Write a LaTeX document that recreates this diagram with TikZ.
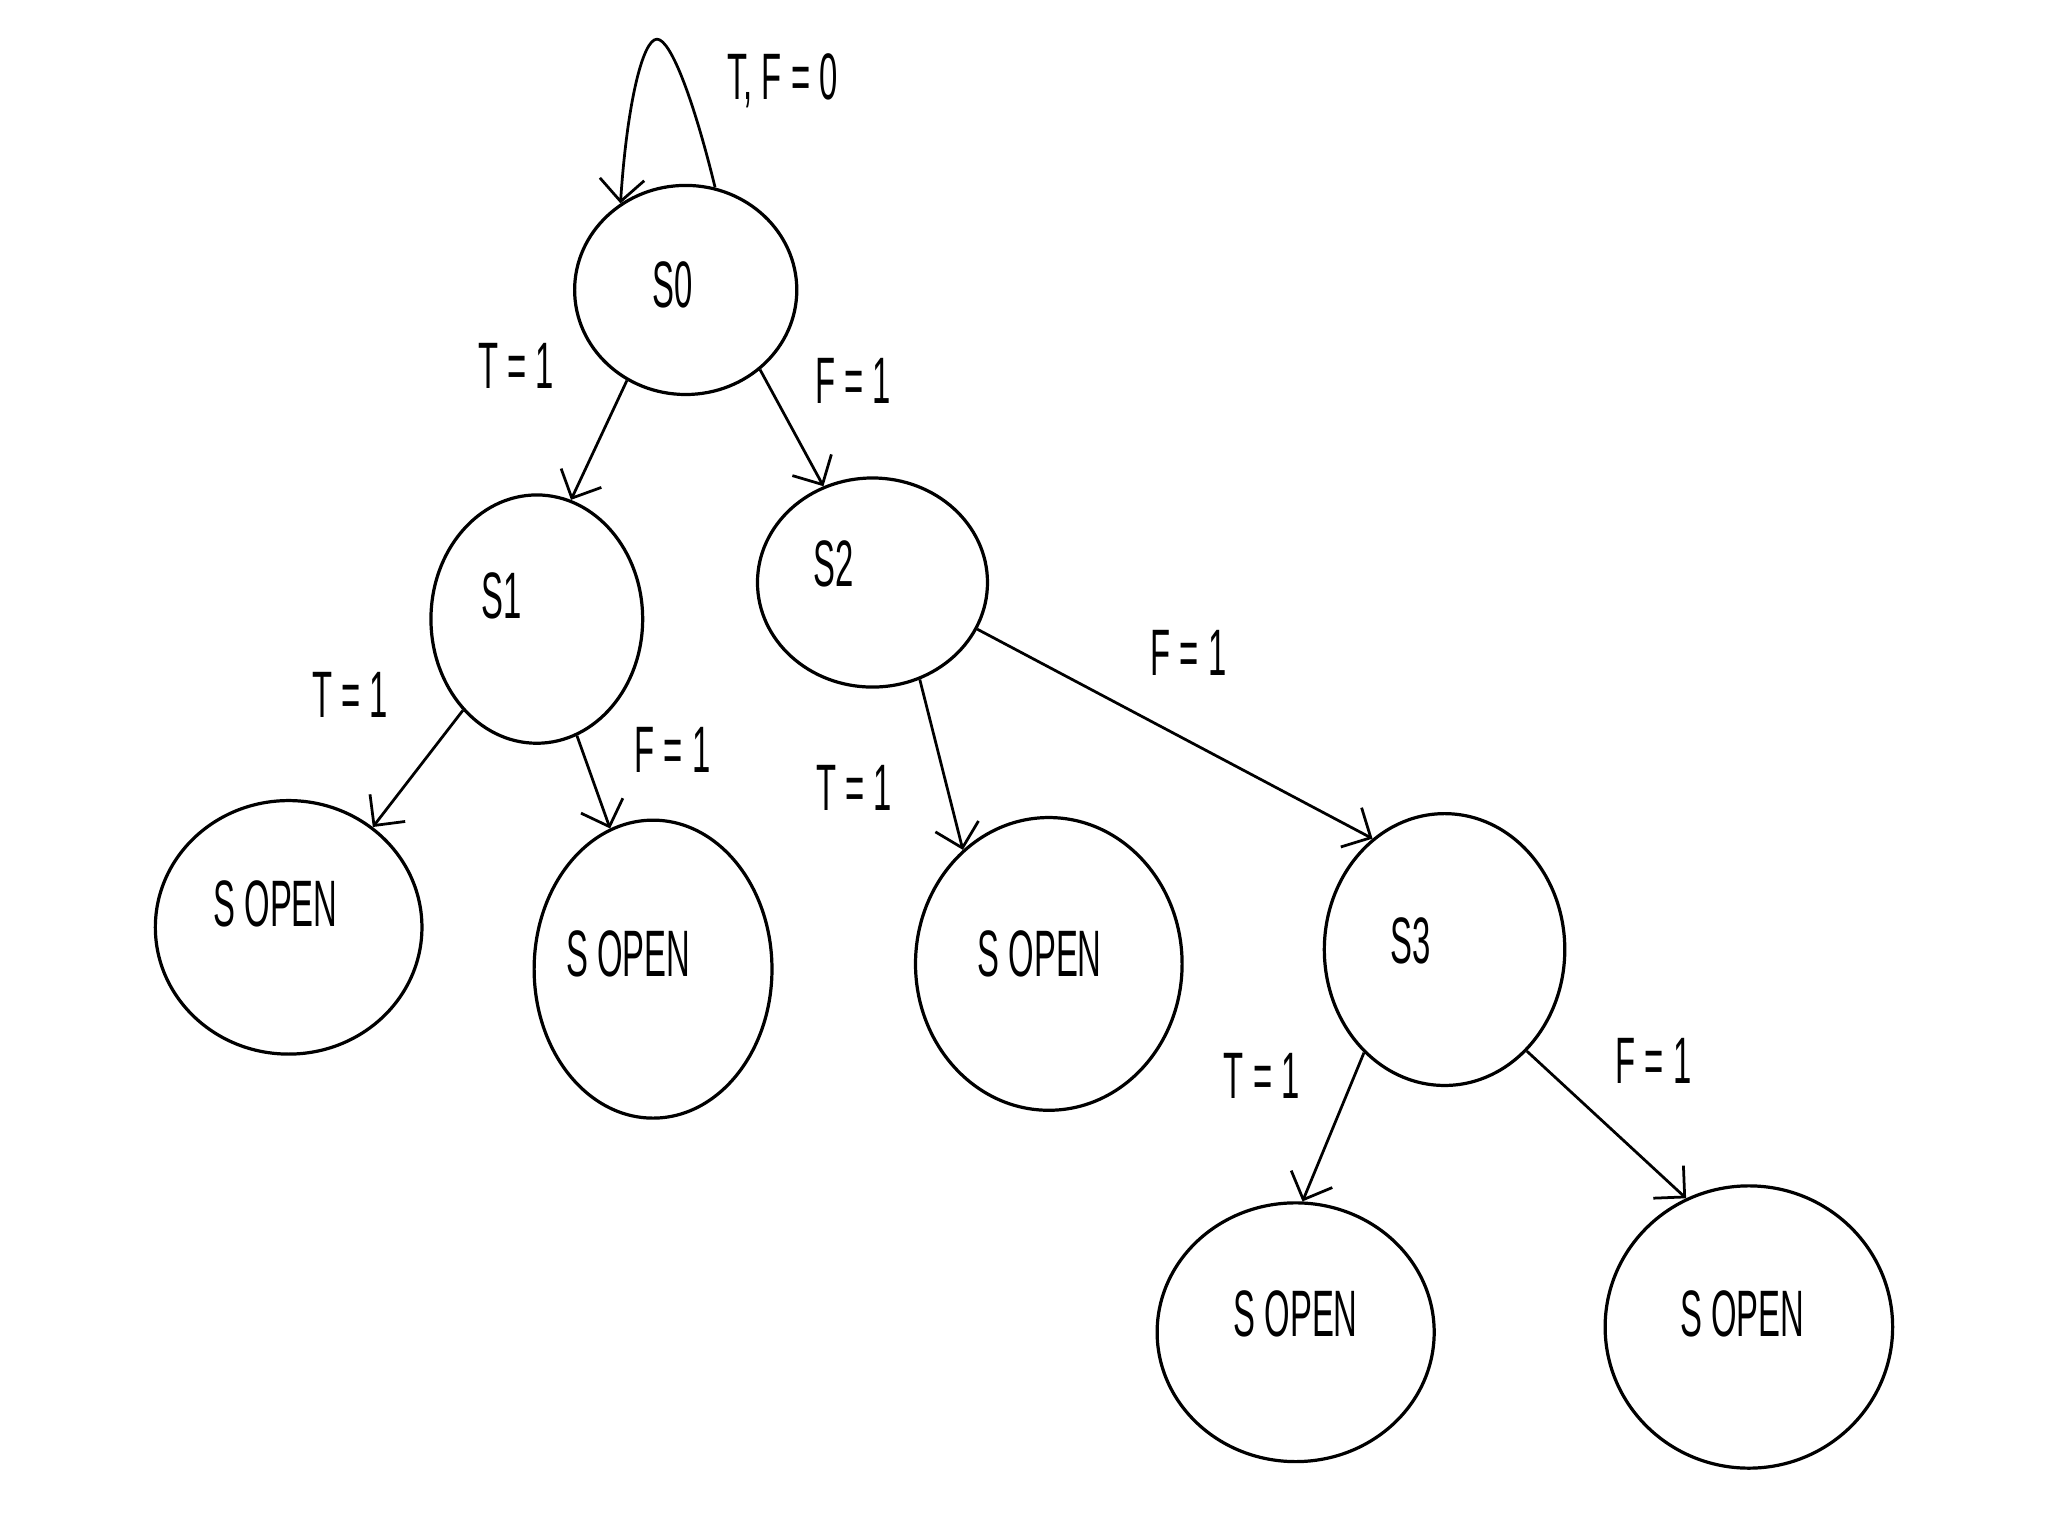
\documentclass[tikz,border=0pt]{standalone}
\usepackage{fontspec}
\setmainfont{Liberation Sans}
\usetikzlibrary{shapes.geometric,arrows.meta}
\newcommand{\mylbl}[1]{\scalebox{0.5}[1]{\fontsize{14.3}{16}\selectfont #1}}
\begin{document}
\begin{tikzpicture}[x=0.01cm,y=-0.01cm,
  st/.style={ellipse,draw,line width=0.7pt,inner sep=0pt},
  txt/.style={inner sep=0pt,font=\fontsize{14.3}{16}\selectfont},
  edge/.style={line width=0.6pt,-{Straight Barb[length=0.17cm,width=0.34cm]}}]
\useasboundingbox (0,0) rectangle (1568,1176);
\fill[white] (0,0) rectangle (1568,1176);
% states
\node[st,minimum width=1.70cm,minimum height=1.60cm] (s0) at (525,222) {};
\node[st,minimum width=1.62cm,minimum height=1.90cm] (s1) at (411,474) {};
\node[st,minimum width=1.76cm,minimum height=1.60cm] (s2) at (668,446) {};
\node[st,minimum width=2.04cm,minimum height=1.94cm] (o1) at (221,710) {};
\node[st,minimum width=1.82cm,minimum height=2.28cm] (o2) at (500,742) {};
\node[st,minimum width=2.04cm,minimum height=2.24cm] (o3) at (803,738) {};
\node[st,minimum width=1.84cm,minimum height=2.08cm] (s3) at (1106,727) {};
\node[st,minimum width=2.12cm,minimum height=1.98cm] (o4) at (992,1020) {};
\node[st,minimum width=2.20cm,minimum height=2.16cm] (o5) at (1339,1016) {};
% state labels
\node[txt] (ls0) at (515,218) {\mylbl{S0}};
\node[txt] (ls1) at (384,456) {\mylbl{S1}};
\node[txt] (ls2) at (638,432) {\mylbl{S2}};
\node[txt] (ls3) at (1080,720) {\mylbl{S3}};
\node[txt] (lo1) at (211,692) {\mylbl{S OPEN}};
\node[txt] (lo2) at (481,730) {\mylbl{S OPEN}};
\node[txt] (lo3) at (796,730) {\mylbl{S OPEN}};
\node[txt] (lo4) at (992,1006) {\mylbl{S OPEN}};
\node[txt] (lo5) at (1334,1006) {\mylbl{S OPEN}};
% edge labels
\node[txt] (e0) at (599,62) {\mylbl{T, F = 0}};
\node[txt] (e1) at (395,280) {\mylbl{T = 1}};
\node[txt] (e2) at (653,292) {\mylbl{F = 1}};
\node[txt] (e3) at (268,532) {\mylbl{T = 1}};
\node[txt] (e4) at (515,574) {\mylbl{F = 1}};
\node[txt] (e5) at (654,603) {\mylbl{T = 1}};
\node[txt] (e6) at (910,500) {\mylbl{F = 1}};
\node[txt] (e7) at (966,824) {\mylbl{T = 1}};
\node[txt] (e8) at (1266,812) {\mylbl{F = 1}};
% self loop
\coordinate (top) at (503,30);
\draw[edge] (s0.74) .. controls (532,80) and (514,30) .. (top)
  .. controls (492,30) and (480,80) .. (s0.127);
% transitions
\draw[edge] (s0.237) -- (s1.74.5);
\draw[edge] (s0.313.6) -- (s2.117.8);
\draw[edge] (s1.231.4) -- (o1.50);
\draw[edge] (s1.289.8) -- (o2.107.3);
\draw[edge] (s2.296) -- (o3.127.1);
\draw[edge] (s2.336.2) -- (s3.123);
\draw[edge] (s3.232.3) -- (o4.87.7);
\draw[edge] (s3.309.6) -- (o5.116);
\end{tikzpicture}
\end{document}
